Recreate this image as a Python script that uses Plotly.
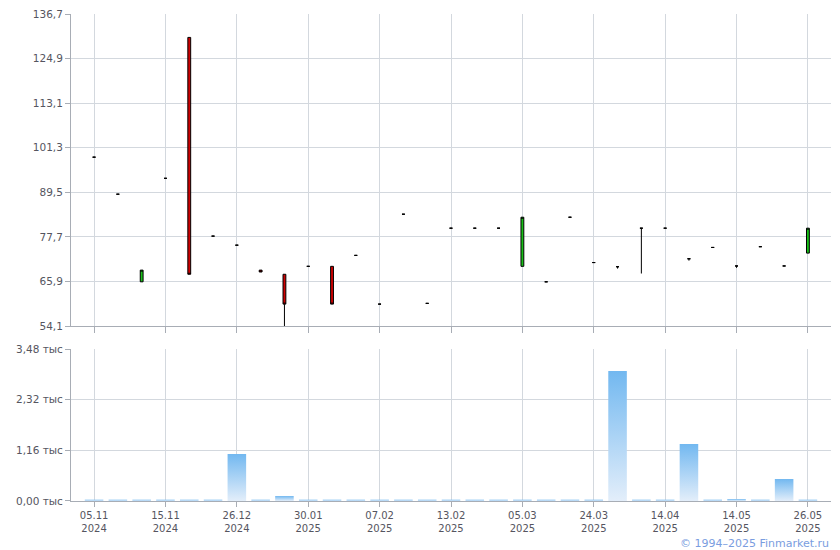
import plotly.graph_objects as go

# ---- data ----
idx = list(range(31))
open_ = [98.8, 89.0, 65.8, 93.2, 130.5, 77.9, 75.5, 68.9, 67.8, 69.9, 69.9, 72.8, 59.9, 83.7, 60.1, 80.0,
         80.0, 80.0, 69.9, 65.8, 82.9, 70.9, 69.8, 80.0, 80.0, 71.9, 74.9, 70.0, 75.1, 70.0, 73.4]
close = [98.8, 89.0, 68.9, 93.2, 67.8, 77.9, 75.5, 68.4, 59.9, 69.9, 59.9, 72.8, 59.9, 83.7, 60.1, 80.0,
         80.0, 80.0, 82.9, 65.8, 82.9, 70.9, 69.8, 80.0, 80.0, 71.9, 74.9, 70.0, 75.1, 70.0, 80.0]
high = [98.8, 89.0, 68.9, 93.2, 130.5, 77.9, 75.5, 68.9, 67.8, 69.9, 69.9, 72.8, 59.9, 83.7, 60.1, 80.0,
        80.0, 80.0, 82.9, 65.8, 82.9, 70.9, 69.8, 80.0, 80.0, 71.9, 74.9, 70.0, 75.1, 70.0, 80.0]
low = [98.8, 89.0, 65.8, 93.2, 67.8, 77.9, 75.5, 68.4, 54.1, 69.9, 59.9, 72.8, 59.9, 83.7, 60.1, 80.0,
       80.0, 80.0, 69.9, 65.8, 82.9, 70.9, 69.3, 68.0, 80.0, 71.4, 74.9, 69.5, 75.1, 70.0, 73.4]
volume = [30, 30, 30, 30, 30, 30, 1076, 30, 115, 30, 30, 30, 30, 30, 30, 30,
          30, 30, 30, 30, 30, 30, 2977, 30, 30, 1305, 30, 45, 30, 504, 30]

tick_idx = [0, 3, 6, 9, 12, 15, 18, 21, 24, 27, 30]
tick_text = ["05.11<br>2024", "15.11<br>2024", "26.12<br>2024", "30.01<br>2025", "07.02<br>2025",
             "13.02<br>2025", "05.03<br>2025", "24.03<br>2025", "14.04<br>2025", "14.05<br>2025",
             "26.05<br>2025"]
price_ticks = [54.1, 65.9, 77.7, 89.5, 101.3, 113.1, 124.9, 136.7]
price_labels = ["54,1", "65,9", "77,7", "89,5", "101,3", "113,1", "124,9", "136,7"]
vol_ticks = [0, 1160, 2320, 3480]
vol_labels = ["0,00 тыс", "1,16 тыс", "2,32 тыс", "3,48 тыс"]

fig = go.Figure()

fig.add_trace(go.Candlestick(
    x=idx, open=open_, high=high, low=low, close=close,
    increasing=dict(fillcolor="#18c018", line=dict(color="#000000", width=1)),
    decreasing=dict(fillcolor="#d00000", line=dict(color="#000000", width=1)),
    whiskerwidth=0, xaxis="x", yaxis="y", hoverinfo="skip", showlegend=False,
))

half = 0.39
for i, v in zip(idx, volume):
    fig.add_trace(go.Scatter(
        x=[i - half, i + half, i + half, i - half, i - half],
        y=[0, 0, v, v, 0],
        mode="lines", fill="toself", line=dict(width=0),
        fillgradient=dict(type="vertical", start=0, stop=v,
                          colorscale=[[0, "#e3eefa"], [1, "#72b8f0"]]),
        xaxis="x2", yaxis="y2", hoverinfo="skip", showlegend=False,
    ))

grid = "#d3d8de"
axline = "#a8adb5"
tickfont = dict(family="DejaVu Sans", size=10.5, color="#555560")
xtickfont = dict(family="DejaVu Sans", size=10, color="#555560")
xr = [-0.97, 30.97]

# page body adds an 8px margin, so the figure is sized 8px smaller on each side
fig.update_layout(
    width=832, height=542,
    margin=dict(l=63, r=9, t=6, b=49, autoexpand=False),
    paper_bgcolor="white", plot_bgcolor="white",
    showlegend=False, boxgap=0.83,
    xaxis=dict(domain=[0, 1], anchor="y", range=xr, tickvals=tick_idx, ticktext=[""] * len(tick_idx),
               showgrid=True, gridcolor=grid, ticks="outside", ticklen=6, tickcolor=axline,
               showline=True, linecolor=axline, rangeslider=dict(visible=False), zeroline=False,
               fixedrange=True, automargin=False),
    yaxis=dict(domain=[0.3593, 1], anchor="x", range=[54.1, 136.7], tickvals=price_ticks,
               ticktext=price_labels, showgrid=True, gridcolor=grid, ticks="outside", ticklen=5,
               tickcolor=axline, showline=True, linecolor=axline, zeroline=False, tickfont=tickfont,
               automargin=False, ticklabeloverflow="allow"),
    xaxis2=dict(domain=[0, 1], anchor="y2", range=xr, tickvals=tick_idx, ticktext=tick_text,
                showgrid=True, gridcolor=grid, ticks="outside", ticklen=5, tickcolor=axline,
                showline=True, linecolor=axline, zeroline=False, tickfont=xtickfont, automargin=False,
                ticklabeloverflow="allow"),
    yaxis2=dict(domain=[0, 0.3121], anchor="x2", range=[0, 3480], tickvals=vol_ticks,
                ticktext=vol_labels, showgrid=True, gridcolor=grid, ticks="outside", ticklen=5,
                tickcolor=axline, showline=True, linecolor=axline, zeroline=False, tickfont=tickfont,
                automargin=False, ticklabeloverflow="allow"),
    annotations=[dict(text="© 1994–2025 Finmarket.ru", xref="paper", yref="paper", x=1.0, y=-0.088,
                      xanchor="right", yanchor="middle", showarrow=False,
                      font=dict(family="DejaVu Sans", size=11, color="#7a9de0"))],
)

fig.write_html("out.html")
